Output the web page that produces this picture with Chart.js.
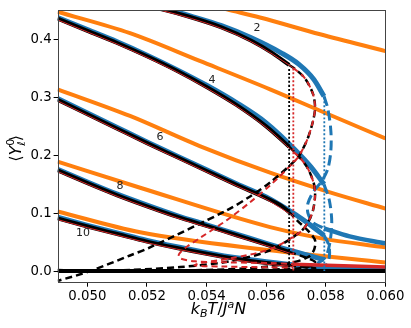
<!DOCTYPE html>
<html>
<head>
<meta charset="utf-8">
<script src="https://cdn.jsdelivr.net/npm/chart.js@4.4.1/dist/chart.umd.min.js"></script>
<style>
  html, body { margin: 0; padding: 0; background: #fff; }
  #wrap { width: 411px; height: 328px; position: relative; }
</style>
</head>
<body>
<div id="wrap"><canvas id="chart"></canvas></div>
<script>
// ===== DATA (x = k_B T / J^a N, y = <Y_l^0>) =====
const xTicks = [0.050, 0.052, 0.054, 0.056, 0.058, 0.060];
const yTicks = [0.0, 0.1, 0.2, 0.3, 0.4];

// orange curves
const orange2 = [[0.05377,0.464],[0.05468,0.452],[0.05579,0.438],[0.05781,0.409],[0.0600,0.380]];
const orange4 = [[0.0490,0.448],[0.05143,0.411],[0.05377,0.363],[0.05613,0.314],[0.05781,0.277],[0.0600,0.229]];
const orange6 = [[0.0490,0.314],[0.05143,0.268],[0.05377,0.216],[0.05613,0.170],[0.05814,0.136],[0.0600,0.108]];
const orange8 = [[0.0490,0.189],[0.05177,0.144],[0.05613,0.076],[0.05781,0.057],[0.0600,0.041]];
const orange10 = [[0.0490,0.103],[0.05177,0.067],[0.05613,0.036],[0.0600,0.015]];

// black, stable part
const black2 = [[0.0514,0.464],[0.0525,0.452],[0.0535,0.438],[0.0545,0.421],[0.0555,0.398],[0.0562,0.377],[0.05677,0.356]];
const black4 = [[0.049,0.436],[0.050,0.415],[0.051,0.394],[0.052,0.371],[0.053,0.346],[0.054,0.318],[0.055,0.287],[0.056,0.250],[0.05677,0.215]];
const black6 = [[0.049,0.296],[0.050,0.271],[0.051,0.246],[0.052,0.221],[0.053,0.197],[0.054,0.173],[0.055,0.149],[0.056,0.126],[0.0565,0.113],[0.05677,0.102]];
const black8 = [[0.049,0.174],[0.050,0.152],[0.051,0.131],[0.052,0.112],[0.053,0.094],[0.054,0.078],[0.055,0.062],[0.056,0.046],[0.05677,0.033]];
const black10 = [[0.049,0.091],[0.050,0.077],[0.051,0.064],[0.052,0.051],[0.053,0.040],[0.054,0.030],[0.055,0.021],[0.056,0.014],[0.05677,0.010]];
const blackZero = [[0.0490,0.0],[0.0600,0.0]];

// black, metastable / unstable part
const black2Dash = [[0.05677,0.356],[0.05697,0.349],[0.0573,0.333],[0.05757,0.306],[0.05764,0.282],[0.05757,0.259],[0.0574,0.230],[0.0572,0.208],[0.05703,0.194],[0.05613,0.153],[0.05546,0.129],[0.05468,0.105],[0.0521,0.041],[0.05143,0.027],[0.05009,0.0],[0.0490,-0.017]];
const black4Dash = [[0.05677,0.215],[0.05713,0.196],[0.0574,0.177],[0.0576,0.151],[0.05764,0.131],[0.05757,0.105],[0.0574,0.084],[0.05713,0.067],[0.05613,0.036],[0.05479,0.017],[0.05311,0.007],[0.05143,0.002],[0.05009,0.0],[0.0490,0.002]];
const black6Dash = [[0.05677,0.102],[0.05707,0.086],[0.0574,0.070],[0.05764,0.053],[0.0576,0.036],[0.0574,0.024],[0.05681,0.014],[0.05546,0.005],[0.05311,0.001],[0.05042,0.0]];
const black8Dash = [[0.05677,0.033],[0.0573,0.024],[0.05764,0.016],[0.05754,0.009],[0.05681,0.004],[0.0541,0.0005],[0.0510,0.0]];
const black10Dash = [[0.05677,0.010],[0.05764,0.005],[0.0572,0.002],[0.0550,0.0]];

// red (thin stable part, dashed unstable part, lower branch)
const red2 = [[0.0514,0.462],[0.0525,0.450],[0.0535,0.436],[0.0545,0.419],[0.0555,0.396],[0.0562,0.375],[0.05691,0.351]];
const red4 = [[0.049,0.434],[0.050,0.413],[0.051,0.392],[0.052,0.369],[0.053,0.344],[0.054,0.316],[0.055,0.285],[0.056,0.248],[0.05691,0.206]];
const red6 = [[0.049,0.294],[0.050,0.269],[0.051,0.244],[0.052,0.219],[0.053,0.195],[0.054,0.171],[0.055,0.147],[0.056,0.124],[0.05691,0.095]];
const red8 = [[0.049,0.172],[0.050,0.150],[0.051,0.129],[0.052,0.110],[0.053,0.092],[0.054,0.076],[0.055,0.060],[0.056,0.044],[0.05691,0.029]];
const red10 = [[0.049,0.089],[0.050,0.075],[0.051,0.062],[0.052,0.049],[0.053,0.038],[0.054,0.028],[0.055,0.019],[0.056,0.012],[0.05691,0.008]];
const red2Dash = [[0.05691,0.351],[0.0573,0.333],[0.05757,0.306],[0.05764,0.282],[0.05757,0.259],[0.0574,0.230],[0.0572,0.208],[0.05703,0.194],[0.05613,0.148],[0.05546,0.119],[0.05468,0.088],[0.05377,0.057],[0.05328,0.040],[0.05307,0.029],[0.05311,0.022],[0.05361,0.017],[0.05479,0.015],[0.05613,0.014],[0.05691,0.012]];
const red4Dash = [[0.05691,0.206],[0.05713,0.196],[0.0574,0.177],[0.0576,0.151],[0.05764,0.131],[0.05757,0.105],[0.0574,0.084],[0.05713,0.067],[0.05613,0.038],[0.0548,0.022],[0.0538,0.014],[0.0536,0.010],[0.0545,0.008],[0.05691,0.006]];
const redLow = [[0.05691,0.012],[0.0600,0.007]];

// blue (stable part, dashed S, lower branch)
const blue2 = [[0.0514,0.466],[0.0525,0.454],[0.0535,0.440],[0.0545,0.424],[0.0555,0.403],[0.0565,0.377],[0.0571,0.357],[0.0576,0.331],[0.05794,0.302]];
const blue4 = [[0.049,0.438],[0.050,0.417],[0.051,0.396],[0.052,0.373],[0.053,0.348],[0.054,0.321],[0.055,0.291],[0.056,0.256],[0.0570,0.208],[0.0575,0.180],[0.05794,0.150]];
const blue6 = [[0.049,0.298],[0.050,0.273],[0.051,0.248],[0.052,0.223],[0.053,0.199],[0.054,0.175],[0.055,0.151],[0.056,0.128],[0.057,0.097],[0.0575,0.079],[0.05794,0.062]];
const blue8 = [[0.049,0.176],[0.050,0.154],[0.051,0.133],[0.052,0.114],[0.053,0.096],[0.054,0.080],[0.055,0.064],[0.056,0.048],[0.057,0.033],[0.05794,0.020]];
const blue10 = [[0.049,0.093],[0.050,0.079],[0.051,0.066],[0.052,0.053],[0.053,0.042],[0.054,0.032],[0.055,0.023],[0.056,0.016],[0.057,0.010],[0.05794,0.006]];
const blue2Dash = [[0.05794,0.302],[0.05807,0.280],[0.05817,0.242],[0.05817,0.208],[0.05807,0.177],[0.05787,0.156],[0.05757,0.136],[0.0574,0.117],[0.0574,0.100],[0.05757,0.084],[0.05794,0.074]];
const blue4Dash = [[0.05794,0.150],[0.05812,0.122],[0.0582,0.085],[0.05814,0.050],[0.0580,0.025],[0.0577,0.013],[0.0574,0.009],[0.0576,0.006],[0.05794,0.005]];
const blue6Dash = [[0.05794,0.062],[0.0581,0.045],[0.05812,0.025],[0.0580,0.010],[0.0575,0.004],[0.05794,0.002]];
const blue2Low = [[0.05794,0.074],[0.0588,0.060],[0.0600,0.048]];
const blue4Low = [[0.05794,0.005],[0.0600,0.003]];

// vertical transition markers
const vBlack = [[0.05677,0.349],[0.05677,0.0]];
const vRed = [[0.05691,0.350],[0.05691,0.0]];
const vBlue = [[0.05795,0.300],[0.05795,0.0]];

// curve labels
const curveLabels = [
  { text: "2", x: 0.05569, y: 0.419 },
  { text: "4", x: 0.05418, y: 0.330 },
  { text: "6", x: 0.05244, y: 0.231 },
  { text: "8", x: 0.05109, y: 0.147 },
  { text: "10", x: 0.04985, y: 0.065 }
];

const ORANGE = "#ff7f0e", BLUE = "#1f77b4", RED = "#d62728", BLACK = "#000000";

function pts(arr) { return arr.map(p => ({ x: p[0], y: p[1] })); }

function ds(arr, color, width, dash, order, mono) {
  return {
    data: pts(arr),
    showLine: true,
    borderColor: color,
    borderWidth: width,
    borderDash: dash || [],
    pointRadius: 0,
    tension: 0.3,
    cubicInterpolationMode: mono ? "monotone" : "default",
    fill: false,
    order: order
  };
}

const datasets = [];
[orange2, orange4, orange6, orange8, orange10].forEach(a => datasets.push(ds(a, ORANGE, 4, null, 5, true)));
[blue2, blue4, blue6, blue8, blue10].forEach(a => datasets.push(ds(a, BLUE, 5, null, 4, true)));
[blue2Dash, blue4Dash, blue6Dash].forEach(a => datasets.push(ds(a, BLUE, 3, [10, 5], 4)));
[blue2Low, blue4Low].forEach(a => datasets.push(ds(a, BLUE, 4.5, null, 4, true)));
[black2, black4, black6, black8, black10, blackZero].forEach(a => datasets.push(ds(a, BLACK, 4, null, 3, true)));
[black2Dash, black4Dash, black6Dash, black8Dash, black10Dash].forEach(a => datasets.push(ds(a, BLACK, 2.5, [7, 4], 3)));
[red2, red4, red6, red8, red10].forEach(a => datasets.push(ds(a, RED, 1, null, 2, true)));
[red2Dash, red4Dash].forEach(a => datasets.push(ds(a, RED, 2, [6, 4], 2)));
datasets.push(ds(redLow, RED, 3.5, null, 2, true));
datasets.push(ds(vBlack, BLACK, 1.8, [2, 2], 1));
datasets.push(ds(vRed, RED, 1.8, [2, 2], 1));
datasets.push(ds(vBlue, BLUE, 1.8, [2, 2], 1));

function drawRich(ctx, parts, x, y) {
  let total = 0;
  parts.forEach(p => { ctx.font = p.font; p.w = p.stack ? 0 : ctx.measureText(p.t).width; total += p.w; });
  let cx = x - total / 2;
  parts.forEach(p => {
    ctx.font = p.font;
    ctx.fillText(p.t, cx, y + (p.dy || 0));
    cx += p.w;
  });
}

const decor = {
  id: "decor",
  afterDatasetsDraw(chart) {
    const { ctx, chartArea: a, scales } = chart;
    ctx.save();
    // frame
    ctx.strokeStyle = "#444";
    ctx.lineWidth = 1;
    ctx.strokeRect(Math.round(a.left) + 0.5, Math.round(a.top) + 0.5, Math.round(a.right - a.left) - 1, Math.round(a.bottom - a.top) - 1);
    // curve labels
    ctx.fillStyle = "#222";
    ctx.font = "11px 'DejaVu Sans'";
    ctx.textAlign = "center";
    ctx.textBaseline = "middle";
    curveLabels.forEach(l => ctx.fillText(l.text, scales.x.getPixelForValue(l.x), scales.y.getPixelForValue(l.y)));
    // axis titles
    ctx.textAlign = "left";
    ctx.textBaseline = "alphabetic";
    ctx.fillStyle = "#000";
    const it = "italic 16px 'DejaVu Sans'", sm = "italic 11px 'DejaVu Sans'";
    drawRich(ctx, [
      { t: "k", font: it }, { t: "B", font: sm, dy: 3 }, { t: "T", font: it },
      { t: "/", font: "16px 'DejaVu Sans'" }, { t: "J", font: it }, { t: "a", font: sm, dy: -6 }, { t: "N", font: it }
    ], (a.left + a.right) / 2 - 3, 314);
    ctx.translate(21, (a.top + a.bottom) / 2 + 2);
    ctx.rotate(-Math.PI / 2);
    drawRich(ctx, [
      { t: "\u27E8", font: "16px 'DejaVu Sans'" }, { t: "Y", font: it },
      { t: "0", font: "11px 'DejaVu Sans'", dy: -7, stack: true },
      { t: "\u2113", font: sm, dy: 4 }, { t: "\u27E9", font: "16px 'DejaVu Sans'" }
    ], 0, 0);
    ctx.restore();
  }
};

new Chart(document.getElementById("chart"), {
  type: "scatter",
  data: { datasets },
  options: {
    responsive: true,
    maintainAspectRatio: false,
    animation: false,
    layout: { padding: { top: 8.3, right: 25.6, left: 0, bottom: 0 } },
    plugins: { legend: { display: false }, tooltip: { enabled: false } },
    scales: {
      x: {
        type: "linear",
        min: 0.049,
        max: 0.060,
        afterFit: s => { s.height = 45.3; },
        afterBuildTicks: s => { s.ticks = xTicks.map(v => ({ value: v })); },
        grid: { display: true, drawOnChartArea: false, drawTicks: true, tickLength: 4, color: "#000" },
        border: { display: false },
        ticks: { color: "#000", padding: 2, maxRotation: 0, font: { family: "DejaVu Sans", size: 13.3 }, callback: v => v.toFixed(3) }
      },
      y: {
        type: "linear",
        min: -0.02,
        max: 0.451,
        afterFit: s => { s.width = 57.6; },
        afterBuildTicks: s => { s.ticks = yTicks.map(v => ({ value: v })); },
        grid: { display: true, drawOnChartArea: false, drawTicks: true, tickLength: 4, color: "#000" },
        border: { display: false },
        ticks: { color: "#000", padding: 2, font: { family: "DejaVu Sans", size: 13.3 }, callback: v => v.toFixed(1) }
      }
    }
  },
  plugins: [decor]
});
</script>
</body>
</html>
